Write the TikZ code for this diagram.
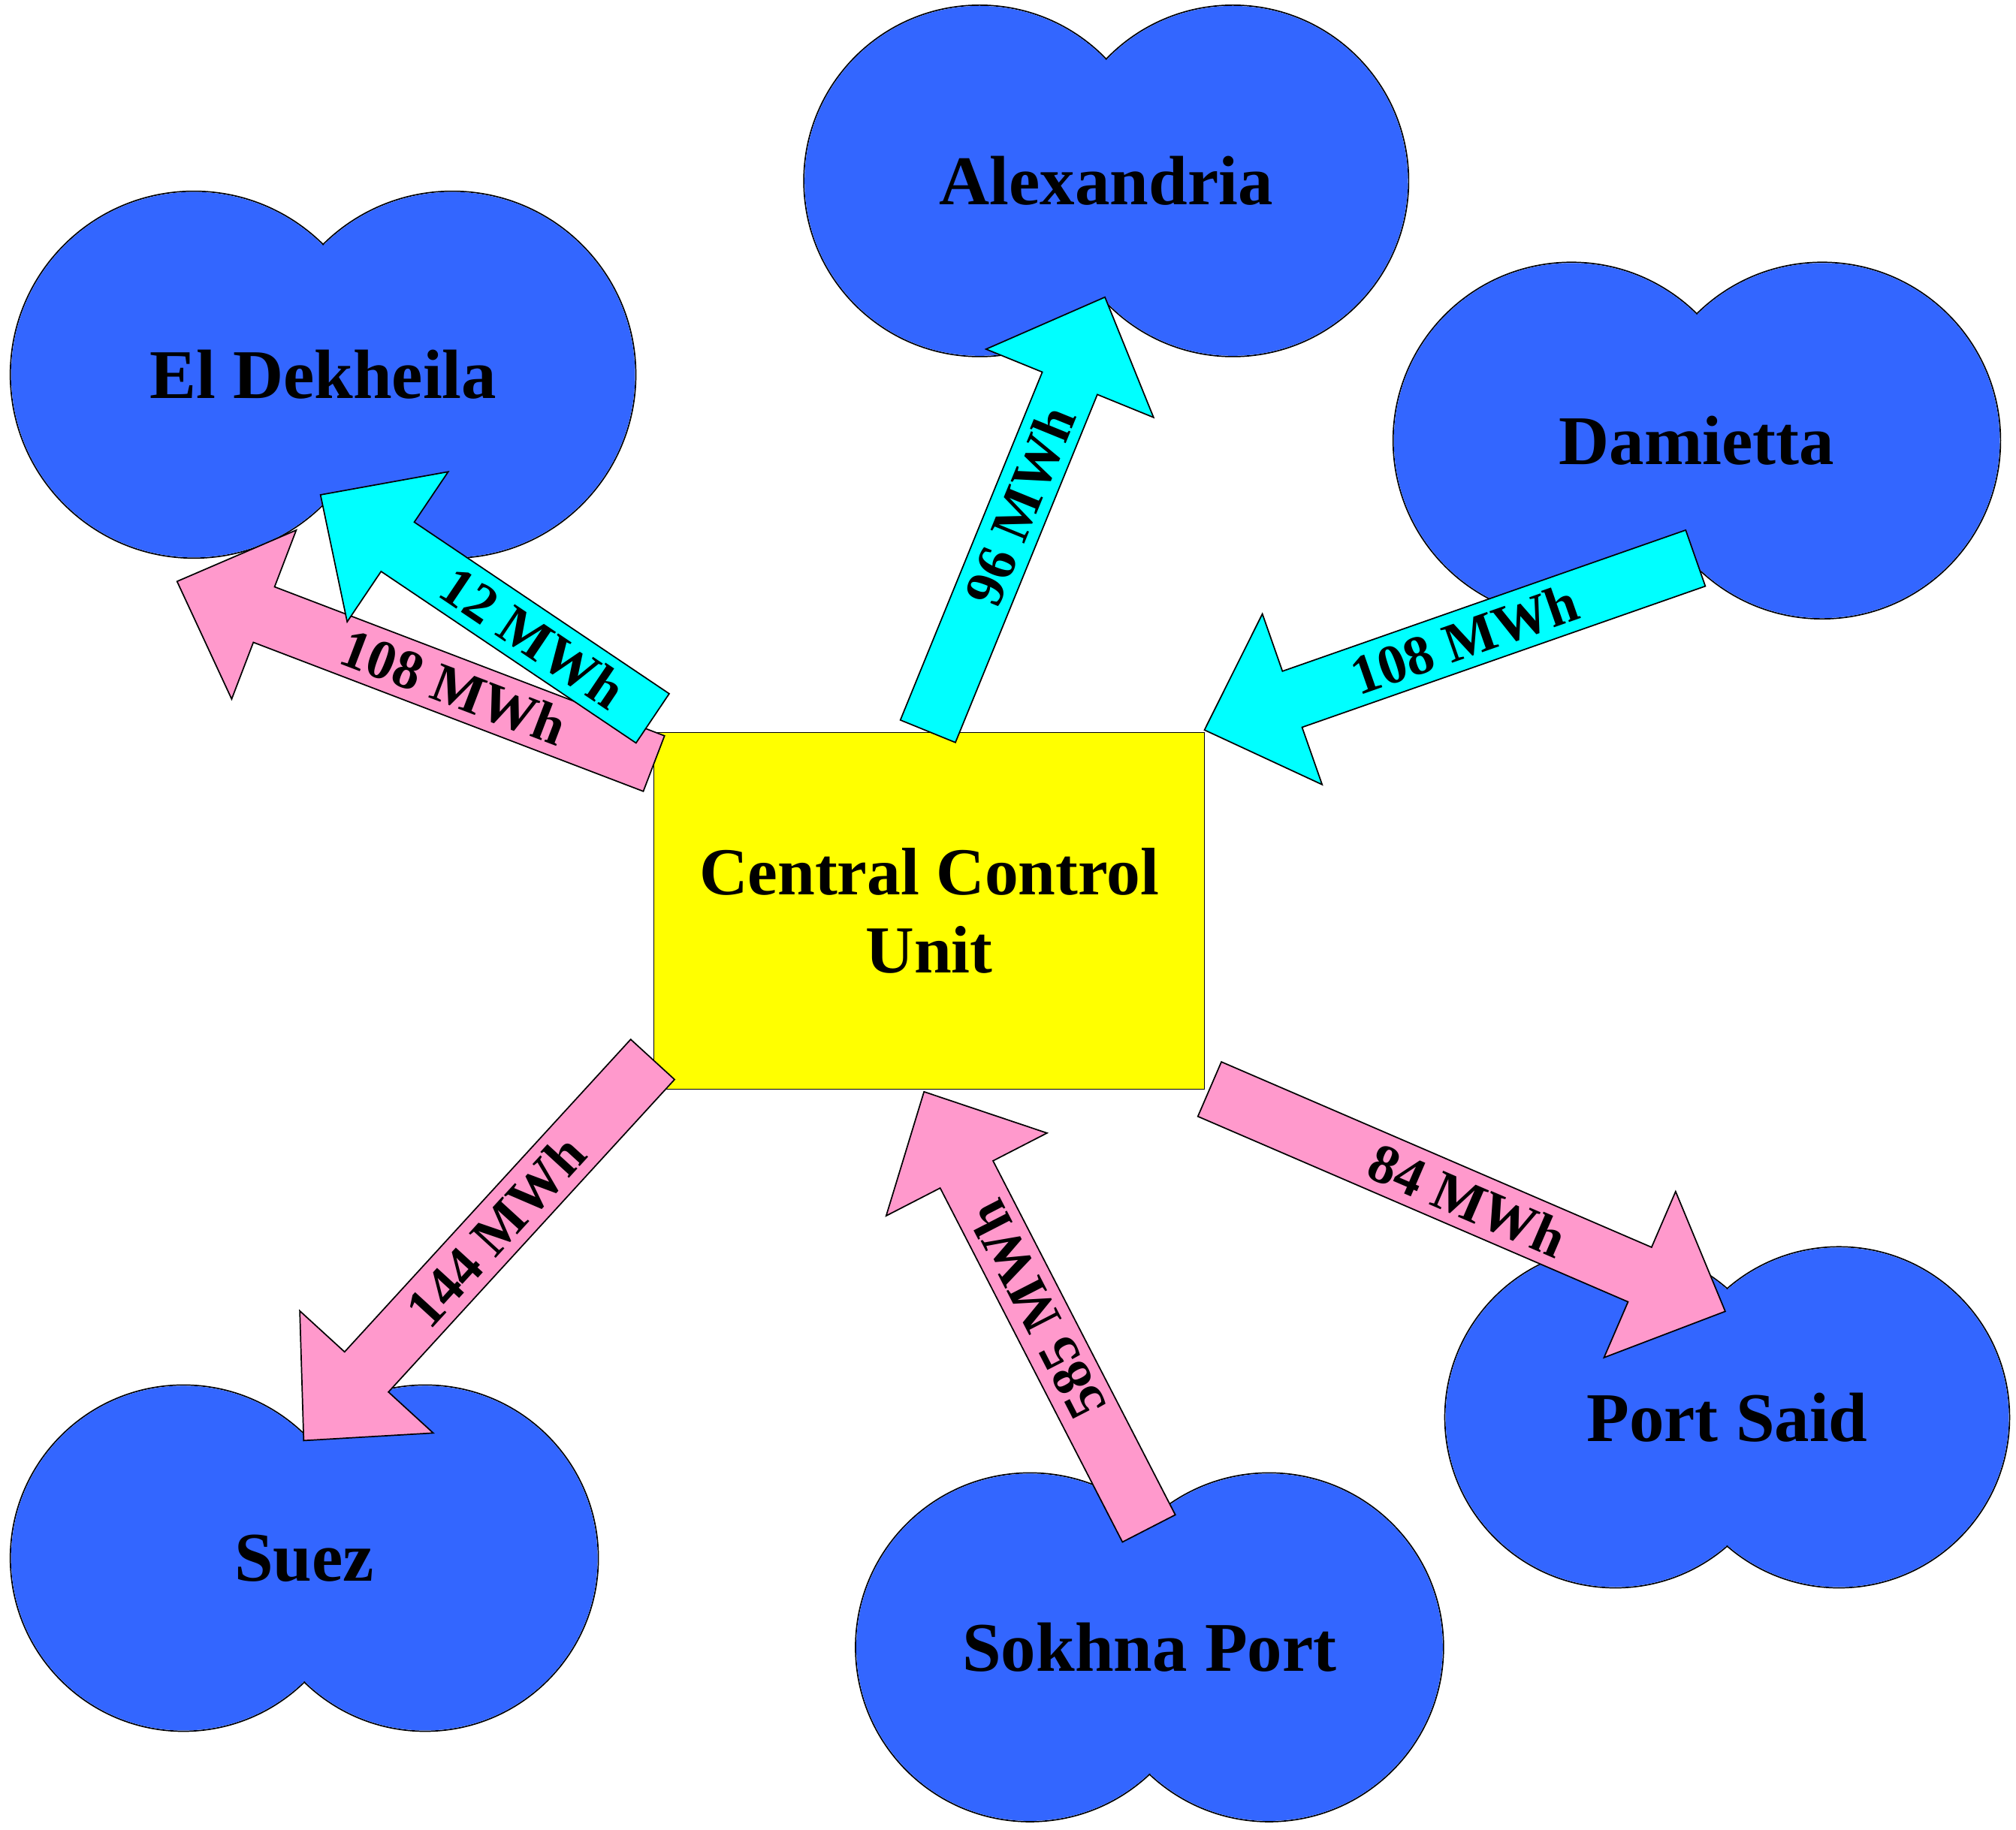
\documentclass[tikz,border=0pt]{standalone}
\usepackage{fontspec}
\setmainfont{Liberation Serif}
\usetikzlibrary{calc}
\definecolor{blob}{HTML}{3366FF}
\definecolor{pinkA}{HTML}{FF99CC}
\definecolor{cyanA}{HTML}{00FFFF}
\definecolor{yel}{HTML}{FFFF00}
\tikzset{
  title/.style={font=\fontsize{54}{60}\selectfont\bfseries},
  lab/.style={font=\fontsize{43}{46}\selectfont\bfseries,inner sep=0pt},
}
\newcommand{\blob}[6]{% name, x1, x2, y, r, text
  \draw[line width=1pt] (#2,#4) circle (#5) (#3,#4) circle (#5);
  \fill[blob] (#2,#4) circle ({#5-0.6}) (#3,#4) circle ({#5-0.6});
  \node[title] (#1) at ({(#2+#3)/2},#4) {#6};
}
\newcommand{\barrow}[3]{% tail, tip, color
  \def\w{23}\def\hw{70}\def\hl{72}
  \draw[fill=#3,line width=1pt,line join=miter]
    ($(#1)!\w pt!90:(#2)$) -- ($($(#2)!\hl pt!(#1)$)!\w pt!90:(#2)$)
    -- ($($(#2)!\hl pt!(#1)$)!\hw pt!90:(#2)$) -- (#2)
    -- ($($(#2)!\hl pt!(#1)$)!\hw pt!-90:(#2)$)
    -- ($($(#2)!\hl pt!(#1)$)!\w pt!-90:(#2)$)
    -- ($(#1)!\w pt!-90:(#2)$) -- cycle;
}
\begin{document}
\begin{tikzpicture}[x=1pt,y=-1pt]
\useasboundingbox (0,0) rectangle (1560,1416);
\blob{alex}{758}{954}{140}{136}{Alexandria}
\blob{eld}{150}{350}{290}{142}{El Dekheila}
\blob{dam}{1216}{1410}{341}{138}{Damietta}
\blob{suez}{142}{329}{1206}{134}{Suez}
\blob{sok}{797}{982}{1275}{135}{Sokhna Port}
\blob{ps}{1250}{1423}{1097}{132}{Port Said}
\node[draw,fill=yel,line width=1pt,minimum width=426pt,minimum height=276pt,
  align=center,font=\fontsize{52}{60}\selectfont\bfseries] (ccu) at (719,705) {Central Control\\Unit};
\coordinate (t1) at (718,566); \coordinate (e1) at (855,230);
\coordinate (t2) at (505,556); \coordinate (e2) at (248,383);
\coordinate (t3) at (506,591); \coordinate (e3) at (137,450);
\coordinate (t4) at (1312,432); \coordinate (e4) at (932,565);
\coordinate (t5) at (505,820); \coordinate (e5) at (235,1115);
\coordinate (t6) at (889,1183); \coordinate (e6) at (715,845);
\coordinate (t7) at (936,843); \coordinate (e7) at (1335,1015);
\barrow{t1}{e1}{cyanA}
\barrow{t3}{e3}{pinkA}
\barrow{t2}{e2}{cyanA}
\barrow{t4}{e4}{cyanA}
\barrow{t5}{e5}{pinkA}
\barrow{t6}{e6}{pinkA}
\barrow{t7}{e7}{pinkA}
\path (t1) -- (e1) node[lab,sloped,pos=0.52] {96 MWh};
\path (t2) -- (e2) node[lab,sloped,pos=0.36] {12 MWh};
\path (t3) -- (e3) node[lab,sloped,pos=0.42] {108 MWh};
\path (t4) -- (e4) node[lab,sloped,pos=0.47] {108 MWh};
\path (t5) -- (e5) node[lab,sloped,pos=0.45] {144 MWh};
\path (t6) -- (e6) node[lab,pos=0.5,rotate=117.2] {585 MWh};
\path (t7) -- (e7) node[lab,sloped,pos=0.5] {84 MWh};
\end{tikzpicture}
\end{document}
